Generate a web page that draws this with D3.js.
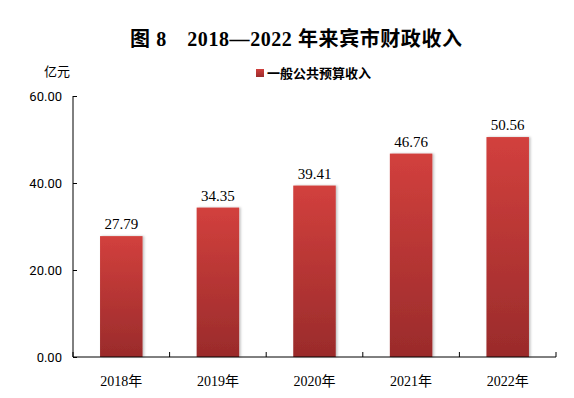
<!DOCTYPE html>
<html>
<head>
<meta charset="utf-8">
<script src="https://cdn.jsdelivr.net/npm/d3@7"></script>
<style>
  body { margin: 0; background: #fff; }
  svg text { font-family: "Liberation Serif", "Times New Roman", "Noto Sans CJK SC", serif; fill: #000; }
</style>
</head>
<body>
<div id="chart"></div>
<script>
// chart data
var years = ["2018年", "2019年", "2020年", "2021年", "2022年"];
var revenue = [27.79, 34.35, 39.41, 46.76, 50.56];
var yTicks = [0, 20, 40, 60];
var seriesName = "一般公共预算收入";
var chartTitle = "图 8　2018—2022 年来宾市财政收入";
var unitLabel = "亿元";

var W = 574, H = 398;
var margin = {top: 96, right: 18, bottom: 41, left: 73};
var width = W - margin.left - margin.right,
    height = H - margin.top - margin.bottom;

var svg = d3.select("#chart").append("svg")
  .attr("width", W)
  .attr("height", H);

var defs = svg.append("defs");
var grad = defs.append("linearGradient")
  .attr("id", "barGrad")
  .attr("x1", 0).attr("y1", 0).attr("x2", 0).attr("y2", 1);
grad.append("stop").attr("offset", "0%").attr("stop-color", "#d2403d");
grad.append("stop").attr("offset", "100%").attr("stop-color", "#9a2b2b");

var shadow = defs.append("filter").attr("id", "shadow")
  .attr("x", "-20%").attr("y", "-10%").attr("width", "140%").attr("height", "120%");
shadow.append("feDropShadow")
  .attr("dx", 1.5).attr("dy", 0).attr("stdDeviation", 1.2)
  .attr("flood-color", "#000").attr("flood-opacity", 0.25);

// title
svg.append("text")
  .attr("x", 130)
  .attr("y", 46)
  .attr("textLength", 332)
  .attr("lengthAdjust", "spacing")
  .style("font-size", "20px")
  .style("font-weight", "bold")
  .text(chartTitle);

// unit label
svg.append("text")
  .attr("x", 57)
  .attr("y", 76)
  .attr("text-anchor", "middle")
  .style("font-size", "13px")
  .text(unitLabel);

// legend
svg.append("rect")
  .attr("x", 256).attr("y", 69)
  .attr("width", 8).attr("height", 8)
  .attr("fill", "url(#barGrad)");
svg.append("text")
  .attr("x", 267)
  .attr("y", 78)
  .style("font-size", "13px")
  .style("font-weight", "bold")
  .text(seriesName);

var g = svg.append("g")
  .attr("transform", "translate(" + margin.left + "," + margin.top + ")");

var x = d3.scaleBand()
  .domain(years)
  .range([0, width])
  .paddingInner(0.56)
  .paddingOuter(0.28);

var y = d3.scaleLinear()
  .domain([0, 60])
  .range([height, 0]);

// bars
g.selectAll(".bar").data(revenue)
  .enter()
  .append("rect")
  .attr("class", "bar")
  .attr("x", function(d, i) { return x(years[i]); })
  .attr("y", function(d) { return y(d); })
  .attr("width", x.bandwidth())
  .attr("height", function(d) { return height - y(d); })
  .attr("fill", "url(#barGrad)")
  .attr("filter", "url(#shadow)");

// value labels
g.selectAll(".val").data(revenue)
  .enter()
  .append("text")
  .attr("class", "val")
  .attr("x", function(d, i) { return x(years[i]) + x.bandwidth() / 2; })
  .attr("y", function(d) { return y(d) - 7; })
  .attr("text-anchor", "middle")
  .style("font-size", "15px")
  .text(function(d) { return d.toFixed(2); });

// y axis
var yAxis = d3.axisLeft(y)
  .tickValues(yTicks)
  .tickSize(-4)
  .tickPadding(11)
  .tickFormat(function(d) { return d.toFixed(2); });
var ya = g.append("g").call(yAxis);
ya.select(".domain").attr("stroke", "#000").attr("d", "M0," + height + "V0");
ya.selectAll(".tick line").attr("stroke", "#000");
ya.selectAll(".tick text").style("font-size", "13px").style("font-family", "Roboto, 'DejaVu Sans', sans-serif");

// x axis with boundary ticks pointing up
var xa = g.append("g").attr("transform", "translate(0," + height + ")");
xa.append("line")
  .attr("x1", 0).attr("x2", width)
  .attr("stroke", "#000");
var step = width / years.length;
xa.selectAll(".xtick").data(d3.range(years.length + 1))
  .enter()
  .append("line")
  .attr("x1", function(i) { return i * step; })
  .attr("x2", function(i) { return i * step; })
  .attr("y1", 0).attr("y2", -5)
  .attr("stroke", "#000");
xa.selectAll(".xlab").data(years)
  .enter()
  .append("text")
  .attr("x", function(d) { return x(d) + x.bandwidth() / 2; })
  .attr("y", 29)
  .attr("text-anchor", "middle")
  .style("font-size", "14px")
  .text(function(d) { return d; });
</script>
</body>
</html>
